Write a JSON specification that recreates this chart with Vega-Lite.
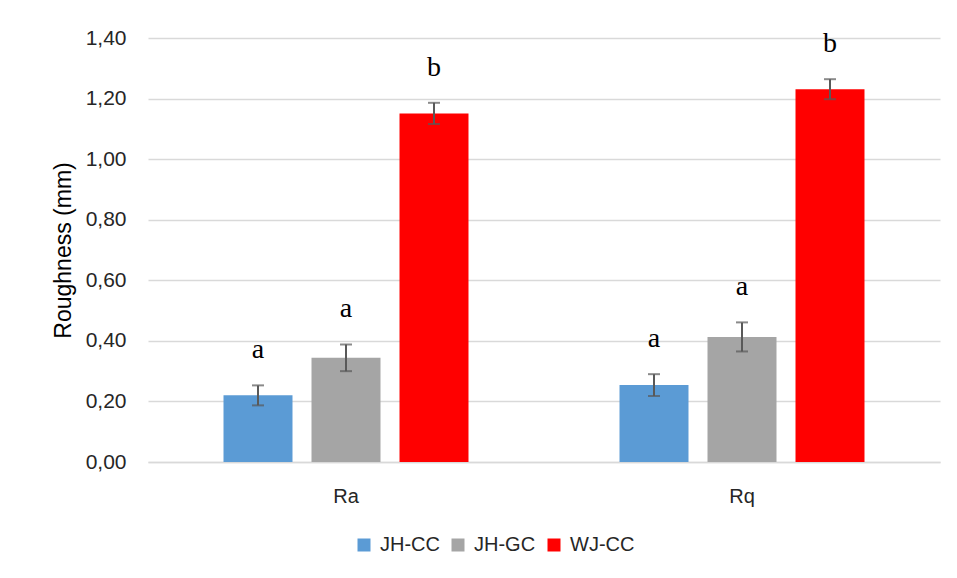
{
  "$schema": "https://vega.github.io/schema/vega-lite/v6.json",
  "autosize": "none",
  "width": 792,
  "height": 424,
  "padding": {"left": 148, "top": 38, "right": 17, "bottom": 116},
  "background": "white",
  "data": {
    "values": [
      {"param": "Ra", "group": "JH-CC", "value": 0.220, "lo": 0.187, "hi": 0.253, "letter": "a"},
      {"param": "Ra", "group": "JH-GC", "value": 0.344, "lo": 0.300, "hi": 0.388, "letter": "a"},
      {"param": "Ra", "group": "WJ-CC", "value": 1.151, "lo": 1.116, "hi": 1.186, "letter": "b"},
      {"param": "Rq", "group": "JH-CC", "value": 0.254, "lo": 0.218, "hi": 0.290, "letter": "a"},
      {"param": "Rq", "group": "JH-GC", "value": 0.413, "lo": 0.365, "hi": 0.461, "letter": "a"},
      {"param": "Rq", "group": "WJ-CC", "value": 1.231, "lo": 1.198, "hi": 1.264, "letter": "b"}
    ]
  },
  "encoding": {
    "x": {
      "field": "param", "type": "nominal", "sort": ["Ra", "Rq"],
      "scale": {"paddingInner": 0, "paddingOuter": 0},
      "axis": {
        "title": null, "labelAngle": 0, "ticks": false, "domain": true,
        "domainColor": "#d9d9d9", "domainWidth": 1.5,
        "labelFont": "Liberation Sans", "labelFontSize": 20, "labelColor": "#262626",
        "labelPadding": 24
      }
    },
    "xOffset": {
      "field": "group", "type": "nominal", "sort": ["JH-CC", "JH-GC", "WJ-CC"],
      "scale": {"paddingInner": 0.216, "paddingOuter": 0.858}
    }
  },
  "layer": [
    {
      "mark": {"type": "bar"},
      "encoding": {
        "y": {
          "field": "value", "type": "quantitative",
          "scale": {"domain": [0, 1.4], "nice": false},
          "axis": {
            "title": "Roughness (mm)", "values": [0, 0.2, 0.4, 0.6, 0.8, 1.0, 1.2, 1.4],
            "labelExpr": "replace(format(datum.value, '.2f'), '.', ',')",
            "domain": false, "ticks": false, "grid": true,
            "gridColor": "#d9d9d9", "gridWidth": 1.5,
            "labelFont": "Liberation Sans", "labelFontSize": 21, "labelColor": "#262626",
            "labelPadding": 22,
            "titleFont": "Liberation Sans", "titleFontSize": 23, "titleFontWeight": "normal",
            "titleColor": "#000000", "titlePadding": 10
          }
        },
        "color": {
          "field": "group", "type": "nominal", "sort": ["JH-CC", "JH-GC", "WJ-CC"],
          "scale": {"domain": ["JH-CC", "JH-GC", "WJ-CC"], "range": ["#5b9bd5", "#a5a5a5", "#ff0000"]},
          "legend": {
            "title": null, "orient": "none", "direction": "horizontal",
            "legendX": 206, "legendY": 497,
            "symbolType": "square", "symbolSize": 169, "symbolStrokeWidth": 0,
            "labelFont": "Liberation Sans", "labelFontSize": 20, "labelColor": "#262626",
            "labelOffset": 6, "columnPadding": 8
          }
        }
      }
    },
    {
      "mark": {"type": "rule", "color": "#595959", "strokeWidth": 2},
      "encoding": {
        "y": {"field": "lo", "type": "quantitative"},
        "y2": {"field": "hi"}
      }
    },
    {
      "mark": {"type": "tick", "color": "#595959", "thickness": 2, "size": 12, "orient": "horizontal"},
      "encoding": {"y": {"field": "lo", "type": "quantitative"}}
    },
    {
      "mark": {"type": "tick", "color": "#595959", "thickness": 2, "size": 12, "orient": "horizontal"},
      "encoding": {"y": {"field": "hi", "type": "quantitative"}}
    },
    {
      "mark": {"type": "text", "font": "Liberation Serif", "fontSize": 28, "color": "#000000", "baseline": "alphabetic", "dy": -27},
      "encoding": {
        "y": {"field": "hi", "type": "quantitative"},
        "text": {"field": "letter"}
      }
    }
  ],
  "config": {"view": {"stroke": null}}
}
